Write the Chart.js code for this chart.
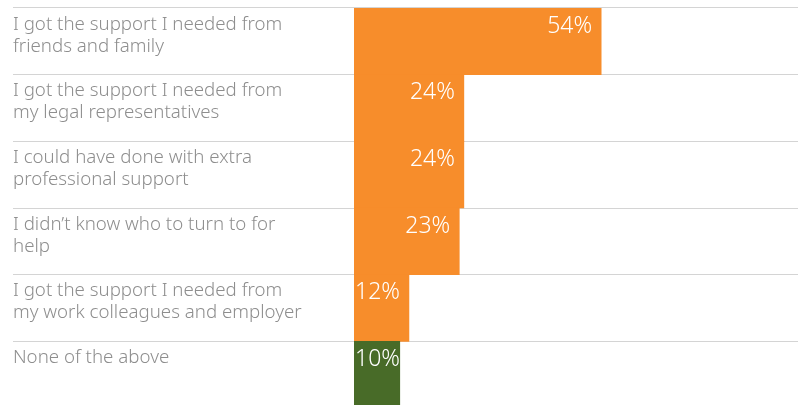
<!DOCTYPE html>
<html>
<head>
<meta charset="utf-8">
<script src="https://cdn.jsdelivr.net/npm/chart.js@4.4.1/dist/chart.umd.min.js"></script>
<style>
  html, body { margin: 0; padding: 0; overflow: hidden; background: #ffffff; }
  #wrap { position: relative; width: 798px; height: 410px; }
</style>
</head>
<body>
<div id="wrap"><canvas id="c"></canvas></div>
<script>
const categories = [
  ["I got the support I needed from", "friends and family"],
  ["I got the support I needed from", "my legal representatives"],
  ["I could have done with extra", "professional support"],
  ["I didn\u2019t know who to turn to for", "help"],
  ["I got the support I needed from", "my work colleagues and employer"],
  ["None of the above", ""]
];
const values = [54, 24, 24, 23, 12, 10];
const barColors = ["#F78D2B", "#F78D2B", "#F78D2B", "#F78D2B", "#F78D2B", "#486B28"];
const xMax = 97;

const FONT = "'Noto Sans', sans-serif";

const valueLabels = {
  id: 'valueLabels',
  afterDatasetsDraw(chart) {
    const ctx = chart.ctx;
    const meta = chart.getDatasetMeta(0);
    ctx.save();
    ctx.font = "300 23px " + FONT;
    ctx.fillStyle = "#ffffff";
    ctx.textAlign = "right";
    ctx.textBaseline = "alphabetic";
    meta.data.forEach((bar, i) => {
      const txt = values[i] + "%";
      const w = ctx.measureText(txt).width;
      const top = bar.y - bar.height / 2;
      let right = bar.x - 9;
      if (right - w < bar.base + 1) right = bar.base + 1 + w;
      ctx.fillText(txt, right, top + 24.5);
    });
    ctx.restore();
  }
};

new Chart(document.getElementById('c'), {
  type: 'bar',
  data: {
    labels: categories,
    datasets: [{
      data: values,
      backgroundColor: barColors,
      borderWidth: 0,
      barPercentage: 1,
      categoryPercentage: 1
    }]
  },
  options: {
    indexAxis: 'y',
    responsive: true,
    maintainAspectRatio: false,
    animation: false,
    layout: { padding: { left: 13, top: 8, right: 0, bottom: 2 } },
    plugins: { legend: { display: false }, tooltip: { enabled: false } },
    scales: {
      x: {
        display: false,
        min: 0,
        max: xMax
      },
      y: {
        afterFit(scale) {
          scale.width = 341;
          scale.paddingTop = 0;
          scale.paddingBottom = 0;
        },
        border: { display: false },
        grid: {
          color: '#d4d4d4',
          lineWidth: 1,
          tickLength: 341,
          offset: true
        },
        ticks: {
          autoSkip: false,
          crossAlign: 'far',
          padding: 0,
          labelOffset: -6,
          color: '#8e8e8e',
          font: { family: FONT, size: 18.7, weight: 300, lineHeight: 1.18 }
        }
      }
    }
  },
  plugins: [valueLabels]
});
</script>
</body>
</html>
